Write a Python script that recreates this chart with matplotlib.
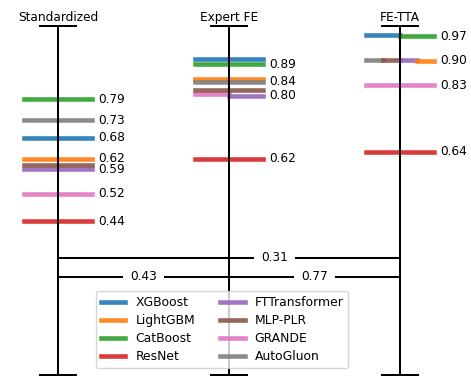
import matplotlib
matplotlib.use("Agg")
import matplotlib.pyplot as plt
from matplotlib.lines import Line2D

# Pipelines (columns) and models
pipelines = ["Standardized", "Expert FE", "FE-TTA"]
models = ["XGBoost", "LightGBM", "CatBoost", "ResNet",
          "FTTransformer", "MLP-PLR", "GRANDE", "AutoGluon"]
colors = ["tab:blue", "tab:orange", "tab:green", "tab:red",
          "tab:purple", "tab:brown", "tab:pink", "tab:gray"]

# Normalized score of each model per pipeline (order follows `models`)
scores_standardized = [0.68, 0.62, 0.79, 0.44, 0.59, 0.601, 0.52, 0.73]
scores_expert_fe = [0.905, 0.849, 0.89, 0.62, 0.80, 0.817, 0.804, 0.84]
scores_fe_tta = [0.974, 0.90, 0.97, 0.64, 0.904, 0.904, 0.83, 0.904]
scores = [scores_standardized, scores_expert_fe, scores_fe_tta]

# Pairwise comparison p-values between pipelines
pair_a = [0, 0, 1]
pair_b = [2, 1, 2]
pair_p = [0.31, 0.43, 0.77]

FS = 8.7
BAR_LW = 3.3
AX_LW = 1.45
HALF = 0.2          # half width of a model bar (x units)
CAP = 0.105         # half width of the axis end caps

fig = plt.figure(figsize=(4.71, 3.76), dpi=100)
ax = fig.add_axes([0, 0, 1, 1])
ax.set_xlim(-58 / 171, (471 - 58) / 171)
ax.set_ylim(-1 / 349, 1 + 26 / 349)
ax.axis("off")

for xi, (name, vals) in enumerate(zip(pipelines, scores)):
    # vertical scale with end caps
    ax.plot([xi, xi], [0, 1], color="black", lw=AX_LW, zorder=3,
            solid_capstyle="butt")
    for yv in (0, 1):
        ax.plot([xi - CAP, xi + CAP], [yv, yv], color="black", lw=AX_LW,
                zorder=3)
    ax.text(xi, 1.006, name, ha="center", va="bottom", fontsize=FS)

    # bars: models sharing the same rounded score split the width
    groups = {}
    for mi, v in enumerate(vals):
        groups.setdefault(f"{v:.2f}", []).append(mi)
    for members in groups.values():
        members = sorted(members, key=lambda m: (-vals[m], -m))
        n = len(members)
        seg = 2 * HALF / n
        for k, mi in enumerate(members):
            x_start = xi - HALF + k * seg
            ax.plot([x_start, x_start + seg], [vals[mi], vals[mi]],
                    color=colors[mi], lw=BAR_LW, alpha=0.9, zorder=2)

    # value labels: close scores share one label at the lowest score
    order = sorted(range(len(vals)), key=lambda m: vals[m])
    clusters = []
    for mi in order:
        if clusters and vals[mi] - clusters[-1][0] < 0.02:
            continue
        clusters.append((vals[mi],))
    for (low,) in clusters:
        ax.text(xi + 0.235, low, f"{low:.2f}", ha="left", va="center",
                fontsize=FS)

# pairwise comparison brackets
for a, b, p in zip(pair_a, pair_b, pair_p):
    level = (b - a) - 1
    yv = 0.281 + level * 0.055
    ax.plot([a, b], [yv, yv], color="black", lw=AX_LW, zorder=1)
    xm = (a + b) / 2
    if float(xm).is_integer():
        xm += 0.265
    ax.text(xm, yv, f"{p:.2f}", ha="center", va="center", fontsize=FS,
            zorder=4,
            bbox=dict(boxstyle="square,pad=0.6", facecolor="white",
                      edgecolor="none"))

handles = [Line2D([], [], color=c, lw=BAR_LW, alpha=0.9) for c in colors]
leg = ax.legend(handles, models, ncol=2, fontsize=8.9, loc="lower center",
                bbox_to_anchor=(222 / 471, 8 / 376),
                bbox_transform=fig.transFigure, borderaxespad=0,
                labelspacing=0.4)
leg.set_zorder(5)

fig.savefig("out.png", dpi=100)
